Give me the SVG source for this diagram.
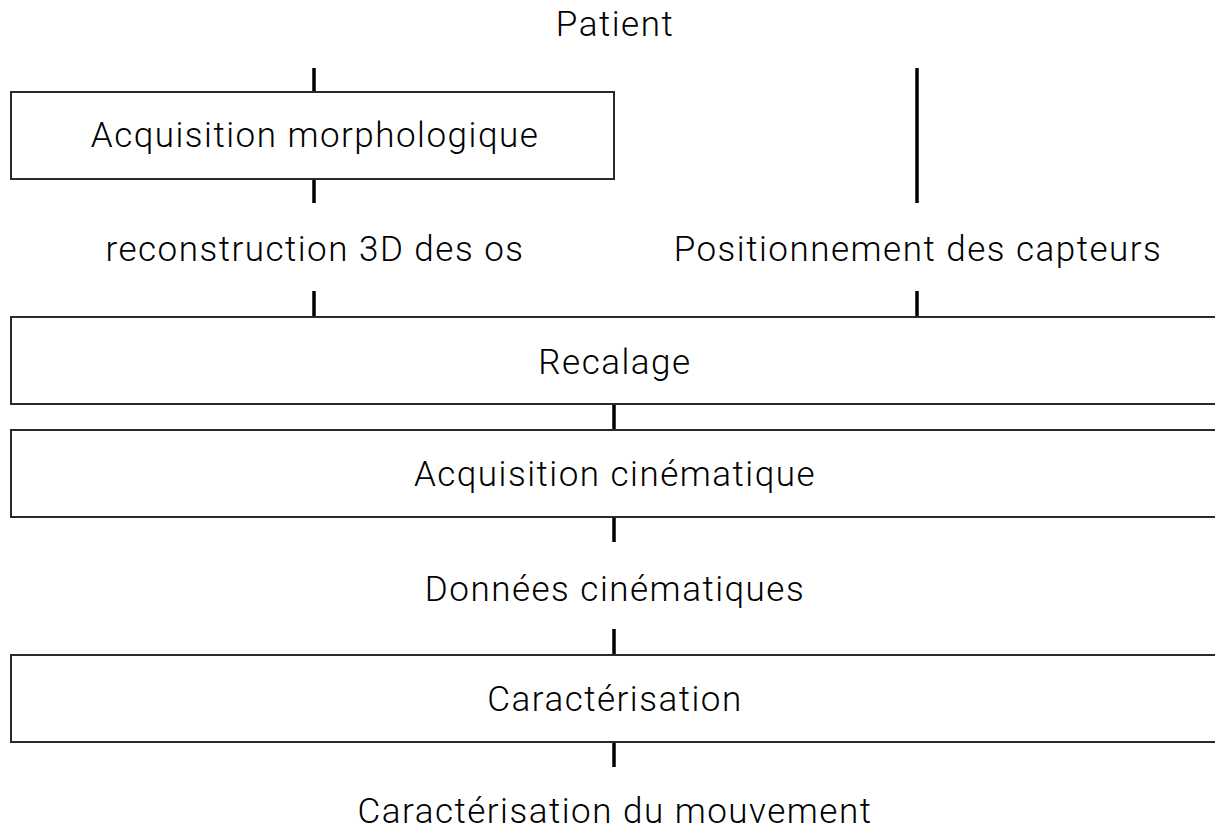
<svg xmlns="http://www.w3.org/2000/svg" width="1215" height="832" viewBox="0 0 1215 832">
<style>
.box{fill:#fff;stroke:#2a2a2a;stroke-width:2}
.ln{stroke:#000;stroke-width:3.5;fill:none}
text{font-family:Roboto,"Liberation Sans",sans-serif;font-weight:300;font-size:35px;letter-spacing:1.5px;fill:#000;text-anchor:middle}
</style>
<rect width="1215" height="832" fill="#fff"/>
<g id="connectors">
<line class="ln" x1="314" y1="68" x2="314" y2="92"/>
<line class="ln" x1="314" y1="179" x2="314" y2="203"/>
<line class="ln" x1="917" y1="68" x2="917" y2="203"/>
<line class="ln" x1="314" y1="291" x2="314" y2="317"/>
<line class="ln" x1="917" y1="291" x2="917" y2="317"/>
<line class="ln" x1="614" y1="404" x2="614" y2="430"/>
<line class="ln" x1="614" y1="517" x2="614" y2="542"/>
<line class="ln" x1="614" y1="629" x2="614" y2="655"/>
<line class="ln" x1="614" y1="742" x2="614" y2="767"/>
</g>
<g id="patient"><text x="615" y="36">Patient</text></g>
<g id="acq-morpho"><rect class="box" x="11" y="92" width="603" height="87"/><text x="315" y="147">Acquisition morphologique</text></g>
<g id="reconstruction"><text x="315" y="261">reconstruction 3D des os</text></g>
<g id="positionnement"><text x="918" y="261">Positionnement des capteurs</text></g>
<g id="recalage"><rect class="box" x="11" y="317" width="1210" height="87"/><text x="615" y="374">Recalage</text></g>
<g id="acq-cine"><rect class="box" x="11" y="430" width="1210" height="87"/><text x="615" y="486">Acquisition cinématique</text></g>
<g id="donnees"><text x="615" y="601">Données cinématiques</text></g>
<g id="caracterisation"><rect class="box" x="11" y="655" width="1210" height="87"/><text x="615" y="711">Caractérisation</text></g>
<g id="caract-mvt"><text x="615" y="823">Caractérisation du mouvement</text></g>
</svg>
